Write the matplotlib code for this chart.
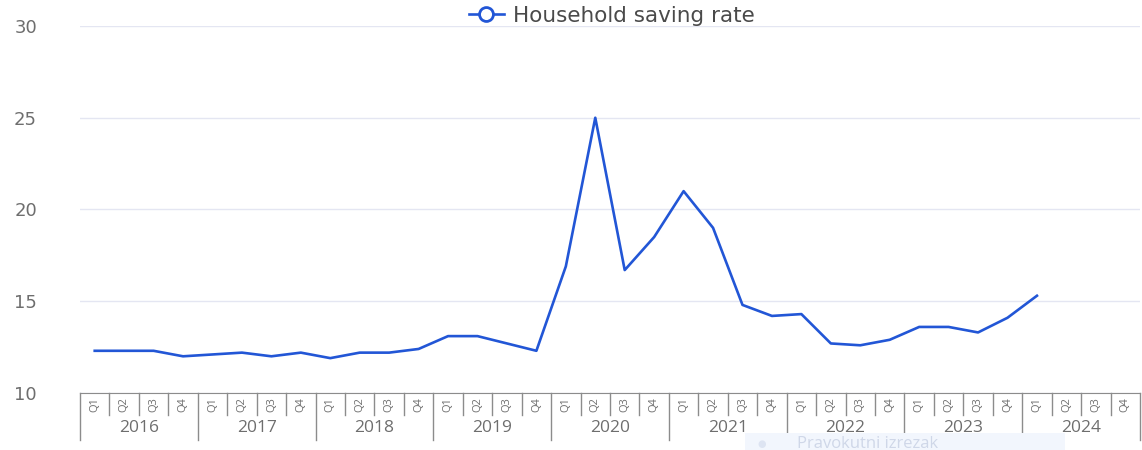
import numpy as np
import matplotlib.pyplot as plt
from matplotlib.lines import Line2D
from matplotlib.patches import Rectangle

# quarterly household saving rate, 2016 Q1 - 2024 Q4
years = ['2016', '2017', '2018', '2019', '2020', '2021', '2022', '2023', '2024']
quarters = ['Q1', 'Q2', 'Q3', 'Q4']
saving_rate = [12.3, 12.3, 12.3, 12.0,
               12.1, 12.2, 12.0, 12.2,
               11.9, 12.2, 12.2, 12.4,
               13.1, 13.1, 12.7, 12.3,
               16.9, 25.0, 16.7, 18.5,
               21.0, 19.0, 14.8, 14.2,
               14.3, 12.7, 12.6, 12.9,
               13.6, 13.6, 13.3, 14.1,
               15.3, None, None, None]

line_color = '#2256d6'
axis_gray = '#8c8c8c'
text_gray = '#6e6e6e'

plt.rcParams['font.family'] = ['Open Sans', 'DejaVu Sans']

fig = plt.figure(figsize=(11.42, 4.5), dpi=100)
ax = fig.add_axes([80 / 1142, 57 / 450, 1060 / 1142, 367 / 450])

n = len(years) * len(quarters)
x = np.arange(n)
y = np.array([np.nan if v is None else v for v in saving_rate])
ax.plot(x, y, color=line_color, lw=1.9, solid_joinstyle='round')

ax.set_xlim(-0.5, n - 0.5)
ax.set_ylim(10, 30)
ax.set_yticks([10, 15, 20, 25, 30])
ax.grid(axis='y', color='#e4e6f2', lw=1)
ax.set_axisbelow(True)
ax.tick_params(axis='y', length=0, pad=31, labelsize=13, labelcolor=text_gray)
for lbl in ax.get_yticklabels():
    lbl.set_family('DejaVu Sans')
ax.set_xticks([])
for s in ['top', 'right', 'left']:
    ax.spines[s].set_visible(False)
ax.spines['bottom'].set_color(axis_gray)

# grouped category axis: quarters then years
tr = ax.get_xaxis_transform()
for i in range(n + 1):
    bottom = -0.128 if i % 4 == 0 else -0.06
    ax.plot([i - 0.5, i - 0.5], [0, bottom], transform=tr, color=axis_gray,
            lw=1, clip_on=False)
for i in range(n):
    ax.text(i, -0.032, quarters[i % 4], transform=tr, rotation=90,
            ha='center', va='center', fontsize=8, color=text_gray)
for j, yr in enumerate(years):
    ax.text(j * 4 + 1.5, -0.095, yr, transform=tr, ha='center', va='center',
            fontsize=12.5, color=text_gray)

handle = Line2D([], [], color=line_color, lw=1.9, marker='o', markersize=10,
                markerfacecolor='white', markeredgecolor=line_color,
                markeredgewidth=2)
fig.legend([handle], ['Household saving rate'], loc='center',
           bbox_to_anchor=(0.536, 0.965), frameon=False,
           prop={'family': 'DejaVu Sans', 'size': 15.5},
           labelcolor='#4a4a4a', handlelength=1.6, handletextpad=0.45)

# snipping-tool tooltip remnant at the bottom
fig.add_artist(Rectangle((745 / 1142, 0), 320 / 1142, 17 / 450,
                         transform=fig.transFigure, fc='#f2f6fd', ec='none'))
fig.text(762 / 1142, 6 / 450, '\u25cf', fontsize=7, color='#dde4f2',
         va='center', ha='center')
fig.text(797 / 1142, 6 / 450, 'Pravokutni izrezak', fontsize=12,
         color='#cfd7e8', va='center', ha='left')

fig.savefig('out.png', dpi=100)
